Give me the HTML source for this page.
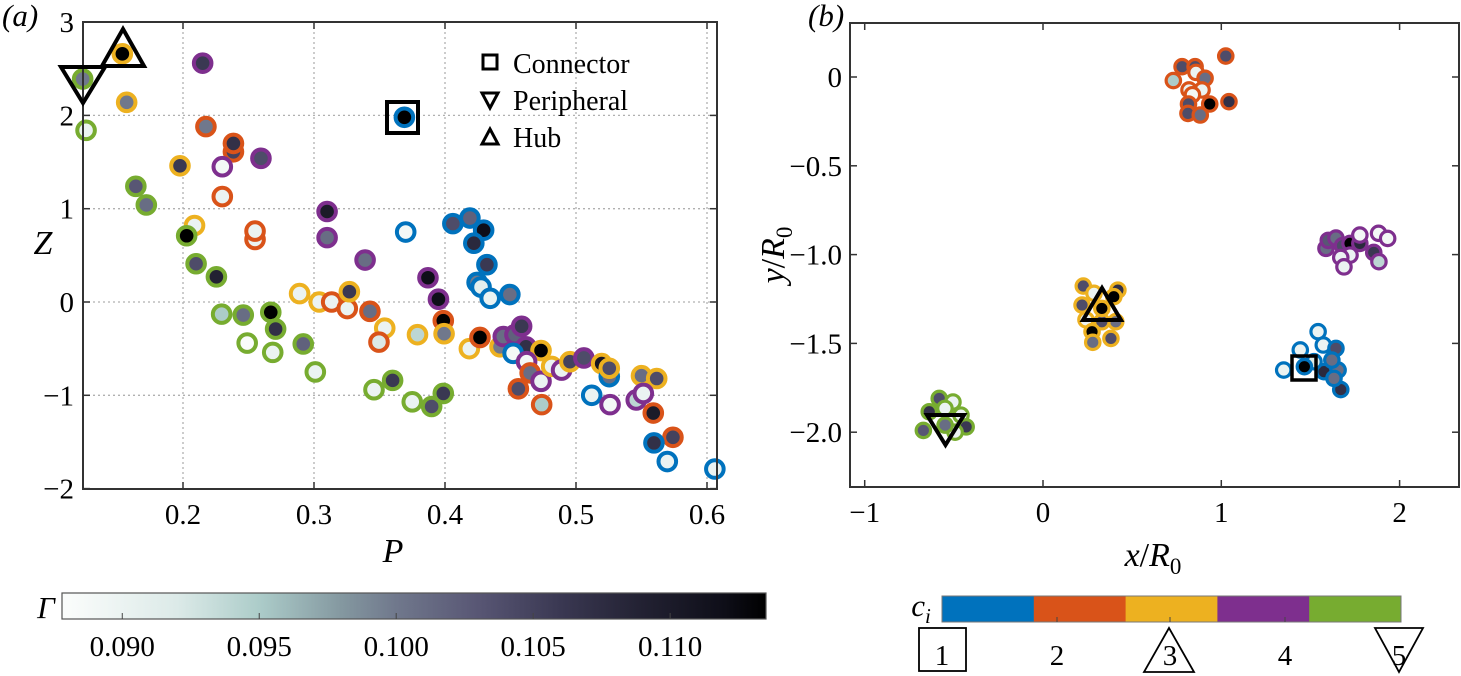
<!DOCTYPE html>
<html><head><meta charset="utf-8">
<style>
html,body{margin:0;padding:0;background:#fff;}
svg{display:block;}
svg text{font-family:"Liberation Serif","DejaVu Serif",serif;}
</style></head>
<body>
<svg id="fig" width="1461" height="676" viewBox="0 0 1461 676" xmlns="http://www.w3.org/2000/svg" font-family="Liberation Serif, DejaVu Serif, serif"></svg>
<script>
// ---------- Panel (a) data ----------
const aP = [0.1234,0.1537,0.157,0.126,0.215,0.2175,0.2385,0.2385,0.2595,0.230,0.1977,0.230,0.164,0.172,0.310,0.310,0.2088,0.2028,0.255,0.255,0.370,0.339,0.210,0.2255,0.387,0.395,
0.406,0.419,0.4295,0.422,0.432,0.4245,0.4275,0.4345,0.4495,0.369,
0.289,0.304,0.3135,0.3254,0.327,0.3427,0.354,0.3496,0.379,0.3987,0.3993,0.4186,0.4267,
0.2295,0.246,0.267,0.2707,0.249,0.2685,0.2918,0.301,0.3458,0.360,0.375,0.3898,0.3987,
0.442,0.4445,0.4534,0.4585,0.4618,0.4733,0.452,0.4623,0.465,0.4733,0.456,0.4738,0.4814,0.489,0.4954,0.506,0.5196,0.5254,0.5254,0.512,0.526,0.550,0.5616,0.546,0.5514,0.559,0.574,0.5595,0.5697,0.606];
const aZ = [2.39,2.66,2.14,1.84,2.56,1.88,1.61,1.70,1.54,1.45,1.46,1.13,1.24,1.04,0.97,0.69,0.82,0.71,0.67,0.76,0.75,0.45,0.41,0.27,0.26,0.03,
0.84,0.90,0.77,0.63,0.40,0.21,0.16,0.04,0.08,1.98,
0.09,0.0,0.0,-0.07,0.11,-0.10,-0.28,-0.43,-0.35,-0.20,-0.34,-0.50,-0.38,
-0.13,-0.14,-0.11,-0.29,-0.44,-0.54,-0.45,-0.75,-0.94,-0.84,-1.07,-1.12,-0.98,
-0.48,-0.37,-0.35,-0.26,-0.48,-0.52,-0.55,-0.64,-0.76,-0.85,-0.93,-1.10,-0.69,-0.73,-0.64,-0.60,-0.66,-0.80,-0.71,-1.00,-1.10,-0.79,-0.82,-1.05,-0.98,-1.19,-1.45,-1.51,-1.71,-1.79];
const aC = [5,3,3,5,4,2,2,2,4,4,3,2,5,5,4,4,3,5,2,2,1,4,5,5,4,4,
1,1,1,1,1,1,1,1,1,1,
3,3,2,2,3,2,3,2,3,2,3,3,2,
5,5,5,5,5,5,5,5,5,5,5,5,5,
3,4,4,4,4,3,1,4,2,4,2,2,3,4,3,4,3,1,3,1,4,3,3,4,4,2,2,1,1,1];
const aG = [0.100,0.1135,0.100,0.090,0.106,0.100,0.105,0.107,0.104,0.089,0.106,0.090,0.103,0.101,0.110,0.101,0.090,0.1135,0.090,0.090,0.089,0.101,0.104,0.109,0.112,0.112,
0.104,0.102,0.112,0.108,0.106,0.100,0.091,0.090,0.101,0.1135,
0.090,0.090,0.090,0.090,0.106,0.101,0.090,0.092,0.094,0.1135,0.100,0.090,0.1135,
0.095,0.101,0.1135,0.107,0.088,0.090,0.102,0.090,0.090,0.106,0.090,0.104,0.106,
0.100,0.101,0.102,0.106,0.107,0.1135,0.089,0.089,0.101,0.090,0.104,0.095,0.090,0.090,0.105,0.104,0.111,0.101,0.104,0.090,0.089,0.101,0.104,0.094,0.090,0.110,0.105,0.107,0.090,0.090];
const aXTicks = [0.2,0.3,0.4,0.5,0.6];
const aYTicks = [-2,-1,0,1,2,3];

// ---------- Panel (b) data ----------
const bX = [1.025,0.78,0.853,0.858,0.909,0.731,0.892,0.819,0.838,0.935,1.043,0.816,0.813,0.882,
1.587,1.60,1.643,1.68,1.722,1.777,1.855,1.884,1.777,1.882,1.933,1.722,1.67,1.688,
0.226,0.286,0.42,0.397,0.219,0.241,0.408,0.330,0.275,0.279,0.381,0.330,
1.543,1.572,1.443,1.643,1.35,1.576,1.655,1.62,1.670,1.52,1.632,1.466,
-0.582,-0.505,-0.638,-0.55,-0.46,-0.671,-0.431,-0.493,-0.549];
const bY = [0.118,0.058,0.058,0.026,-0.007,-0.02,-0.073,-0.073,-0.10,-0.152,-0.139,-0.152,-0.205,-0.214,
-0.965,-0.92,-0.907,-0.95,-0.937,-0.937,-0.988,-1.04,-0.89,-0.88,-0.909,-1.003,-1.016,-1.069,
-1.177,-1.218,-1.2,-1.237,-1.284,-1.367,-1.378,-1.378,-1.434,-1.494,-1.472,-1.303,
-1.434,-1.509,-1.537,-1.528,-1.65,-1.659,-1.65,-1.594,-1.76,-1.603,-1.697,-1.631,
-1.81,-1.83,-1.885,-1.866,-1.904,-1.99,-1.97,-2.0,-1.96];
const bC = [2,2,2,2,2,2,2,2,2,2,2,2,2,2,
4,4,4,4,4,4,4,4,4,4,4,4,4,4,
3,3,3,3,3,3,3,3,3,3,3,3,
1,1,1,1,1,1,1,1,1,1,1,1,
5,5,5,5,5,5,5,5,5];
const bG = [0.104,0.104,0.104,0.090,0.101,0.095,0.090,0.090,0.089,0.1135,0.107,0.104,0.104,0.101,
0.101,0.103,0.101,0.104,0.1135,0.108,0.106,0.094,0.089,0.089,0.089,0.090,0.090,0.090,
0.104,0.090,0.107,0.1135,0.104,0.090,0.101,0.104,0.1135,0.101,0.104,0.1135,
0.090,0.090,0.090,0.104,0.090,0.108,0.101,0.101,0.107,0.092,0.101,0.1135,
0.104,0.090,0.107,0.090,0.090,0.103,0.106,0.090,0.101];
const bXTicks = [-1,0,1,2];
const bYTicks = [0,-0.5,-1.0,-1.5,-2.0];
const bYTickLabels = ["0","\u22120.5","\u22121.0","\u22121.5","\u22122.0"];
const gTicks = [0.090,0.095,0.100,0.105,0.110];
const gTickLabels = ["0.090","0.095","0.100","0.105","0.110"];
const clusterIds = [1,2,3,4,5];

const CL = {1:"#0072BD",2:"#D95319",3:"#EDB120",4:"#7E2F8E",5:"#77AC30"};
const NS="http://www.w3.org/2000/svg";
const svg=document.getElementById('fig');
const FF='Liberation Serif, DejaVu Serif, serif';
function el(tag,attrs,parent){const e=document.createElementNS(NS,tag);for(const k in attrs)e.setAttribute(k,attrs[k]);(parent||svg).appendChild(e);return e;}
function txt(s,attrs,parent){attrs['font-family']=FF;const e=el('text',attrs,parent);e.textContent=s;return e;}

const gStops=[[0.088,[250,252,251]],[0.092,[220,234,232]],[0.095,[172,204,201]],[0.098,[132,152,160]],[0.100,[112,120,140]],[0.103,[88,86,116]],[0.106,[58,56,82]],[0.109,[34,33,50]],[0.112,[14,14,24]],[0.1135,[0,0,0]]];
function gcol(g){
  if(g<=gStops[0][0])return 'rgb('+gStops[0][1].join(',')+')';
  for(let i=1;i<gStops.length;i++){if(g<=gStops[i][0]){const a=gStops[i-1],b=gStops[i];const t=(g-a[0])/(b[0]-a[0]);
    return 'rgb('+a[1].map((v,j)=>Math.round(v+(b[1][j]-v)*t)).join(',')+')';}}
  return 'rgb(0,0,0)';
}

// ---------- Panel (a) ----------
const A={l:83,r:717,t:22,b:489};
function ax(p){return 183+(p-0.2)*1310;}
function ay(z){return 302-z*93.3;}
const gA=el('g',{});


aXTicks.forEach(v=>{const g=el('line',{x1:ax(v),x2:ax(v),y1:A.t,y2:A.b,stroke:'#b0b0b0','stroke-width':1.3,'stroke-dasharray':'2,3'},gA);});
aYTicks.forEach(v=>{const g=el('line',{x1:A.l,x2:A.r,y1:ay(v),y2:ay(v),stroke:'#b0b0b0','stroke-width':1.3,'stroke-dasharray':'2,3'},gA);});
for(let i=0;i<aP.length;i++){
  const c=el('circle',{cx:ax(aP[i]),cy:ay(aZ[i]),r:8.8,fill:gcol(aG[i]),stroke:CL[aC[i]],'stroke-width':4},gA);
  
  
}
const fa=el('rect',{x:A.l,y:A.t,width:A.r-A.l,height:A.b-A.t,fill:'none',stroke:'#333','stroke-width':2},gA);

aXTicks.forEach(v=>{el('line',{x1:ax(v),x2:ax(v),y1:A.b,y2:A.b-7,stroke:'#333','stroke-width':1.5},gA);el('line',{x1:ax(v),x2:ax(v),y1:A.t,y2:A.t+7,stroke:'#333','stroke-width':1.5},gA);
  const t=txt(String(v),{x:ax(v),y:524,'font-size':29,'text-anchor':'middle'},gA);});
aYTicks.forEach(v=>{el('line',{x1:A.l,x2:A.l+7,y1:ay(v),y2:ay(v),stroke:'#333','stroke-width':1.5},gA);el('line',{x1:A.r,x2:A.r-7,y1:ay(v),y2:ay(v),stroke:'#333','stroke-width':1.5},gA);
  const t=txt(v<0?'\u2212'+(-v):String(v),{x:74,y:ay(v)+10,'font-size':29,'text-anchor':'end'},gA);});
let t;
t=txt('P',{x:393,y:562,'font-size':34,'font-style':'italic','text-anchor':'middle'},gA);
t=txt('Z',{x:43,y:254,'font-size':34,'font-style':'italic','text-anchor':'middle'},gA);
t=txt('(a)',{x:2,y:26,'font-size':31,'font-style':'italic'},gA);
let m;
m=el('polygon',{points:'61,67 105,67 83,103',fill:'none',stroke:'#000','stroke-width':4},gA);
m=el('polygon',{points:'123,29 144,66 102,66',fill:'none',stroke:'#000','stroke-width':4},gA);
m=el('rect',{x:387,y:102,width:31,height:31,fill:'none',stroke:'#000','stroke-width':4},gA);
const lg=el('g',{},gA);
m=el('rect',{x:483,y:55,width:14,height:14,fill:'none',stroke:'#000','stroke-width':3},lg);
m=el('polygon',{points:'482,93 498,93 490,108',fill:'none',stroke:'#000','stroke-width':3},lg);
m=el('polygon',{points:'490,129 498,144 482,144',fill:'none',stroke:'#000','stroke-width':3},lg);
t=txt('Connector',{x:513,y:73,'font-size':28},lg);
t=txt('Peripheral',{x:513,y:110,'font-size':28},lg);
t=txt('Hub',{x:513,y:147,'font-size':28},lg);

// ---------- Panel (b) ----------
const B={l:850,r:1459,t:23,b:487};
function bx(v){return 1043+v*178.3;}
function by(v){return 77-v*177.6;}
const gB=el('g',{});


for(let i=0;i<bX.length;i++){
  const c=el('circle',{cx:bx(bX[i]),cy:by(bY[i]),r:7.2,fill:gcol(bG[i]),stroke:CL[bC[i]],'stroke-width':3.2},gB);
  
  
}
const fb=el('rect',{x:B.l,y:B.t,width:B.r-B.l,height:B.b-B.t,fill:'none',stroke:'#333','stroke-width':2},gB);

bXTicks.forEach(v=>{el('line',{x1:bx(v),x2:bx(v),y1:B.b,y2:B.b-7,stroke:'#333','stroke-width':1.5},gB);el('line',{x1:bx(v),x2:bx(v),y1:B.t,y2:B.t+7,stroke:'#333','stroke-width':1.5},gB);
  const tt=txt(v<0?'\u2212'+(-v):String(v),{x:bx(v),y:522,'font-size':29,'text-anchor':'middle'},gB);});
bYTicks.forEach((v,i)=>{el('line',{x1:B.l,x2:B.l+7,y1:by(v),y2:by(v),stroke:'#333','stroke-width':1.5},gB);el('line',{x1:B.r,x2:B.r-7,y1:by(v),y2:by(v),stroke:'#333','stroke-width':1.5},gB);
  const tt=txt(bYTickLabels[i],{x:842,y:by(v)+10,'font-size':29,'text-anchor':'end'},gB);});
t=el('text',{x:1153,y:566,'font-size':34,'text-anchor':'middle','font-family':FF},gB);t.innerHTML='<tspan font-style="italic">x</tspan>/<tspan font-style="italic">R</tspan><tspan font-size="23" dy="8">0</tspan>';

t=el('text',{x:0,y:0,'font-size':34,'text-anchor':'middle','font-family':FF,transform:'translate(784,255) rotate(-90)'},gB);t.innerHTML='<tspan font-style="italic">y</tspan>/<tspan font-style="italic">R</tspan><tspan font-size="23" dy="8">0</tspan>';

t=txt('(b)',{x:808,y:26,'font-size':31,'font-style':'italic'},gB);
m=el('polygon',{points:'1102,288 1121,320 1083,320',fill:'none',stroke:'#000','stroke-width':4},gB);
m=el('polygon',{points:'927,415 964,415 945.5,445',fill:'none',stroke:'#000','stroke-width':4},gB);
m=el('rect',{x:1292,y:356,width:24,height:24,fill:'none',stroke:'#000','stroke-width':3.5},gB);

// ---------- Gamma colorbar ----------
const CB={l:62,r:766,t:593,b:619};
const gmin=0.0878,gmax=0.1135;
function gx(g){return CB.l+(g-gmin)/(gmax-gmin)*(CB.r-CB.l);}
const defs=el('defs',{});
const lgd=el('linearGradient',{id:'gg',x1:0,x2:1,y1:0,y2:0},defs);
gStops.forEach(s=>{el('stop',{offset:Math.max(0,(s[0]-gmin)/(gmax-gmin)),'stop-color':'rgb('+s[1].join(',')+')'},lgd);});
const cbg=el('g',{});
el('rect',{x:CB.l,y:CB.t,width:CB.r-CB.l,height:CB.b-CB.t,fill:'url(#gg)',stroke:'#555','stroke-width':1.2},cbg);
gTicks.forEach((v,i)=>{el('line',{x1:gx(v),x2:gx(v),y1:CB.b,y2:CB.b-6,stroke:'#444','stroke-width':1},cbg);
  const tt=txt(gTickLabels[i],{x:gx(v),y:656,'font-size':29,'text-anchor':'middle'},cbg);});
t=txt('\u0393',{x:46,y:618,'font-size':31,'font-style':'italic','text-anchor':'middle'},cbg);

// ---------- Cluster colorbar ----------
const CC={l:942,r:1401,t:596,b:622};
const cw=(CC.r-CC.l)/clusterIds.length;
const ccg=el('g',{});
clusterIds.forEach((k,i)=>{const r=el('rect',{x:CC.l+i*cw,y:CC.t,width:cw+0.5,height:CC.b-CC.t,fill:CL[k]},ccg);});
el('rect',{x:CC.l,y:CC.t,width:CC.r-CC.l,height:CC.b-CC.t,fill:'none',stroke:'#777','stroke-width':1},ccg);
const clX=[942,1057,1170,1285,1399];
clusterIds.forEach((k,i)=>{
  if(i>0&&i<4)el('line',{x1:clX[i],x2:clX[i],y1:CC.b,y2:CC.b-5,stroke:'#444','stroke-width':1},ccg);
  const tt=txt(String(k),{x:clX[i],y:665,'font-size':29,'text-anchor':'middle'},ccg);
});
m=el('rect',{x:919,y:628,width:47,height:43,fill:'none',stroke:'#000','stroke-width':1.8},ccg);
m=el('polygon',{points:'1169,628 1194,672 1144,672',fill:'none',stroke:'#000','stroke-width':1.8},ccg);
m=el('polygon',{points:'1375,628 1423,628 1399,672',fill:'none',stroke:'#000','stroke-width':1.8},ccg);
t=el('text',{x:921,y:616,'font-size':31,'text-anchor':'middle','font-style':'italic','font-family':FF},ccg);t.innerHTML='c<tspan font-size="21" dy="7">i</tspan>';

</script>
</body></html>
